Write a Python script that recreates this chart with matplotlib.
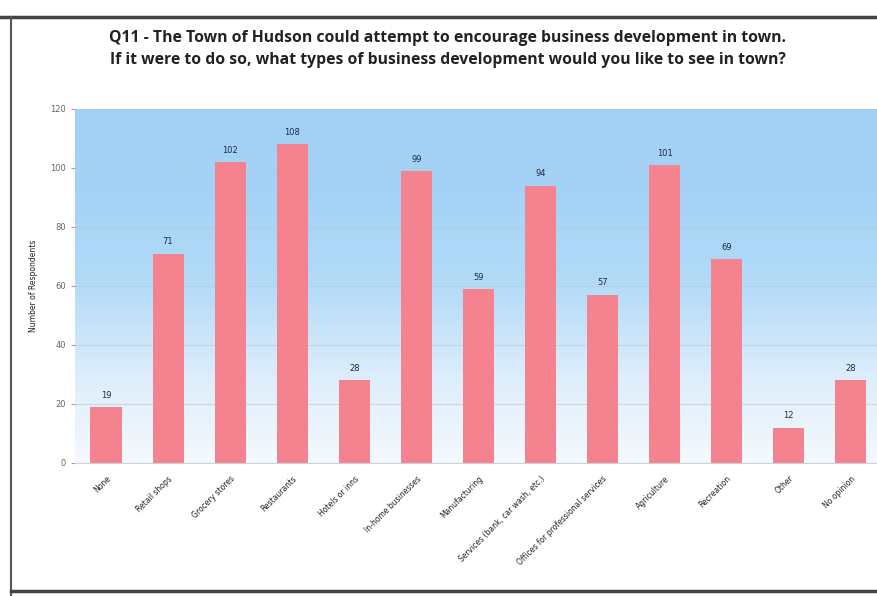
import numpy as np
import matplotlib.pyplot as plt
from matplotlib.colors import LinearSegmentedColormap
from matplotlib.lines import Line2D

categories = [
    "None",
    "Retail shops",
    "Grocery stores",
    "Restaurants",
    "Hotels or inns",
    "In-home businesses",
    "Manufacturing",
    "Services (bank, car wash, etc.)",
    "Offices for professional services",
    "Agriculture",
    "Recreation",
    "Other",
    "No opinion",
]
respondents = [19, 71, 102, 108, 28, 99, 59, 94, 57, 101, 69, 12, 28]
y_ticks = [0, 20, 40, 60, 80, 100, 120]

title = (
    "Q11 - The Town of Hudson could attempt to encourage business development in town.\n"
    "If it were to do so, what types of business development would you like to see in town?"
)

fig = plt.figure(figsize=(8.78, 5.96), dpi=100)
fig.patch.set_facecolor("white")

ax = fig.add_axes([0.0854, 0.2232, 0.919, 0.594])
x = np.arange(len(categories))

# blue-to-white gradient behind the bars
grad = LinearSegmentedColormap.from_list(
    "sky", ["#f5f9fd", "#dcedfb", "#b3dbf8", "#a5d3f6", "#a2d1f6"]
)
ax.imshow(
    np.linspace(0, 1, 256).reshape(-1, 1),
    cmap=grad,
    aspect="auto",
    extent=[-0.5, len(categories) - 0.5, 0, 120],
    origin="lower",
    zorder=0,
)

ax.set_xlim(-0.5, len(categories) - 0.5)
ax.set_ylim(0, 120)
ax.set_yticks(y_ticks)
ax.yaxis.grid(True, color="#b9c6d2", linewidth=0.8, alpha=0.6, zorder=1)

bars = ax.bar(x, respondents, width=0.5, color="#f5838f", zorder=2)
for rect, val in zip(bars, respondents):
    ax.text(
        rect.get_x() + rect.get_width() / 2,
        val + 2.5,
        str(val),
        ha="center",
        va="bottom",
        fontsize=6,
        color="#1f2a45",
        zorder=3,
    )

ax.set_xticks(x)
ax.set_xticklabels(
    categories,
    rotation=45,
    ha="right",
    rotation_mode="anchor",
    fontsize=5.5,
    color="#222222",
)
ax.tick_params(axis="y", labelsize=6, colors="#666666", length=3, color="#d88")
ax.tick_params(axis="x", length=0, pad=8)
for side in ["top", "right", "left"]:
    ax.spines[side].set_visible(False)
ax.spines["bottom"].set_color("#c8d4de")

ax.set_ylabel("Number of Respondents", fontsize=5.5, color="#222222", labelpad=9)

fig.text(
    0.51,
    0.918,
    title,
    ha="center",
    va="center",
    fontsize=11.3,
    fontweight="bold",
    family=["Open Sans", "DejaVu Sans"],
    color="#222222",
    linespacing=1.55,
)

# page border around the chart
fig.add_artist(Line2D([0, 1], [0.972, 0.972], transform=fig.transFigure,
                      color="#444444", linewidth=2.5))
fig.add_artist(Line2D([0.012, 0.012], [0.0, 0.972], transform=fig.transFigure,
                      color="#555555", linewidth=1.5))
fig.add_artist(Line2D([0.012, 1], [0.008, 0.008], transform=fig.transFigure,
                      color="#444444", linewidth=2.5))

fig.savefig("out.png", dpi=100)
